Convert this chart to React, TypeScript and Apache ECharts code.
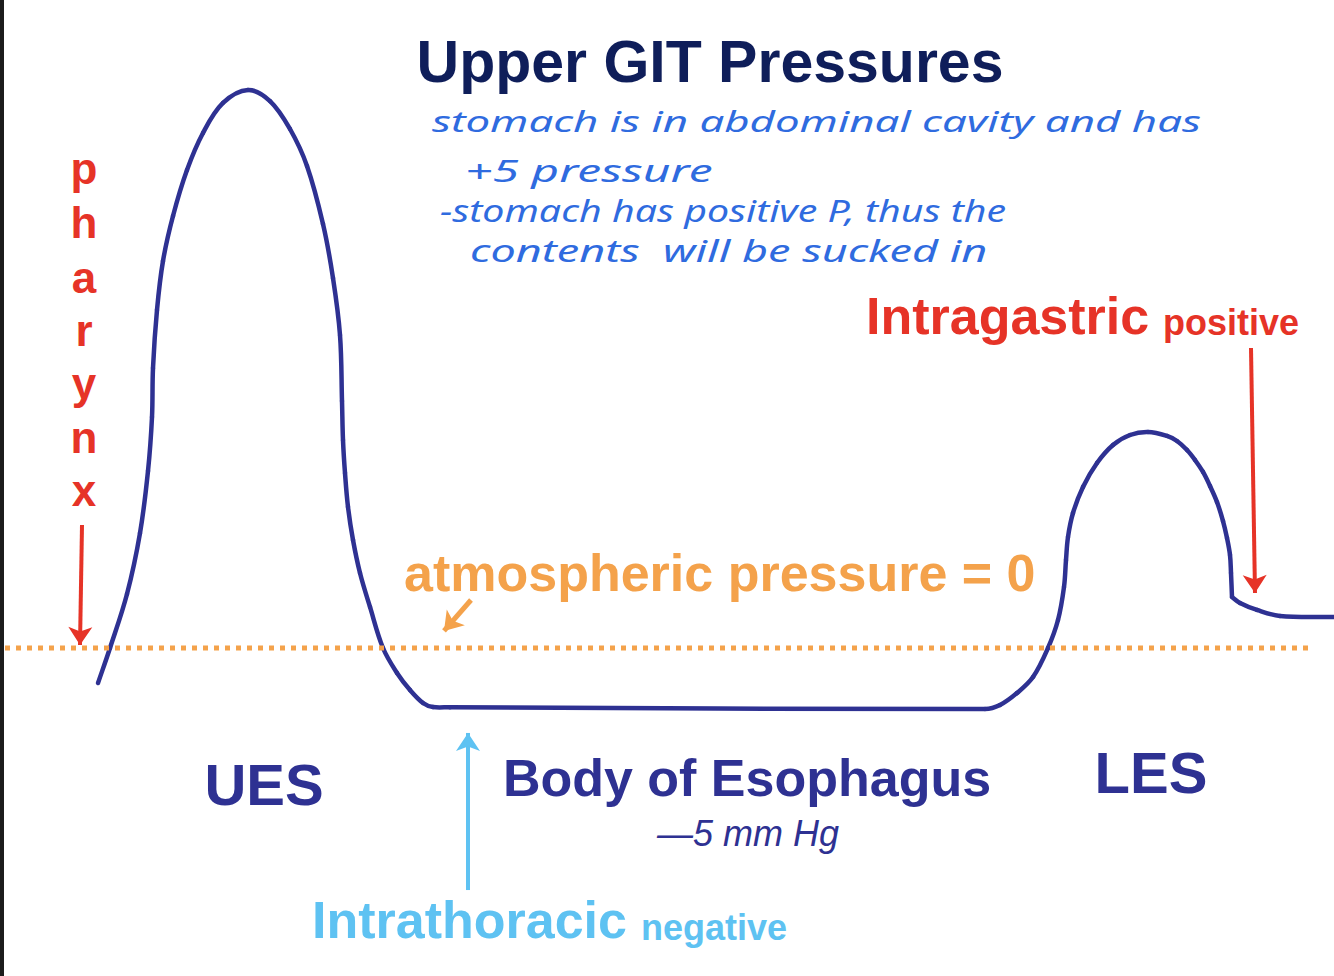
import React, { useEffect, useRef } from "react";
import * as echarts from "echarts";

// Pressure trace: [position along the tract, pressure (mm Hg relative to atmosphere)]
const uesAndBodyAndLes: [number, number][] = [
  [98, -2.92], [110, 0], [127, 4.5], [140, 9.58], [148, 14.75], [152, 19.25],
  [153, 23.33], [157, 28.17], [163, 32.25], [173, 36], [187, 39.83], [203, 42.92],
  [223, 45.42], [248, 46.5], [270, 45.58], [290, 43.25], [307, 40.17], [323, 35.33],
  [333, 30.83], [340, 26.08], [342, 20.58], [343, 17.33], [345, 14.58], [348, 11.75],
  [353, 9], [360, 6.25], [370, 3.42], [383, 0], [397, -2.08], [410, -3.5],
  [423, -4.58], [433, -4.92], [450, -4.93],
  [985, -5.08], [1000, -4.75], [1017, -3.75], [1033, -2.42], [1048, 0], [1058, 2.33],
  [1064, 5.08], [1066, 7.33], [1068, 9.25], [1073, 11.25], [1083, 13.42], [1097, 15.42],
  [1113, 16.92], [1130, 17.75], [1148, 18], [1167, 17.67], [1177, 17.25], [1187, 16.5],
  [1195, 15.67], [1203, 14.67], [1210, 13.5], [1217, 12.17], [1223, 10.58], [1227, 9.17],
  [1230, 7.75], [1231, 6.25], [1232, 4.25],
];
const gastricTail: [number, number][] = [
  [1232, 4.25], [1240, 3.75], [1257, 3.17], [1280, 2.67], [1334, 2.58],
];
const atmosphericLine: [number, number][] = [[5, 0], [1308, 0]];

const titleText = "Upper GIT Pressures";
const noteLines = [
  "stomach is in abdominal cavity and has",
  "+5 pressure",
  "-stomach has positive P, thus the",
  "contents  will be sucked in",
];
const pharynxLetters = ["p", "h", "a", "r", "y", "n", "x"];

const NAVY = "#2e3192";
const RED = "#e63327";
const ORANGE = "#f4a24b";
const LIGHTBLUE = "#5ec2f2";
const INK = "#2f6bdf";
const TITLE = "#0f1e5a";
const SANS = '"Liberation Sans", Arial, sans-serif';

function txt(text: string, x: number, y: number, font: string, fill: string, align = "center", scaleX = 1) {
  return {
    type: "text",
    x,
    y,
    scaleX,
    silent: true,
    z: 10,
    style: {
      text,
      font,
      fill,
      textAlign: align,
      textVerticalAlign: "middle",
      align,
      verticalAlign: "middle",
    },
  };
}

// Smooth curve series: each data item draws the cubic segment to the next point
function curveSeries(points: [number, number][], tension: number) {
  const n = points.length;
  return {
    type: "custom",
    coordinateSystem: "cartesian2d",
    silent: true,
    clip: false,
    data: points,
    renderItem: (params: any, api: any) => {
      const i = params.dataIndex;
      if (i >= n - 1) return null;
      const p0 = api.coord(points[Math.max(i - 1, 0)]);
      const p1 = api.coord(points[i]);
      const p2 = api.coord(points[i + 1]);
      const p3 = api.coord(points[Math.min(i + 2, n - 1)]);
      const dist = (a: number[], b: number[]) => Math.hypot(a[0] - b[0], a[1] - b[1]);
      const d01 = dist(p0, p1);
      const d12 = dist(p1, p2);
      const d23 = dist(p2, p3);
      const r1 = d12 / (d01 + d12 || 1);
      const r2 = d12 / (d12 + d23 || 1);
      const c1 = [p1[0] + (p2[0] - p0[0]) * tension * r1, p1[1] + (p2[1] - p0[1]) * tension * r1];
      const c2 = [p2[0] - (p3[0] - p1[0]) * tension * r2, p2[1] - (p3[1] - p1[1]) * tension * r2];
      const pathData = `M${p1[0]},${p1[1]} C${c1[0]},${c1[1]} ${c2[0]},${c2[1]} ${p2[0]},${p2[1]}`;
      return {
        type: "path",
        shape: { pathData },
        style: { fill: "none", stroke: NAVY, lineWidth: 4.5, lineCap: "round", lineJoin: "round" },
      };
    },
  };
}

export default function App() {
  const ref = useRef<HTMLDivElement>(null);
  useEffect(() => {
    if (!ref.current) return;
    const chart = echarts.init(ref.current, undefined, { renderer: "svg" });

    const noteY = [120, 170, 210, 250];
    const noteX = [432, 465, 440, 470];
    const noteScale = [1.46, 1.6, 1.31, 1.5];
    const pharynxY = [168, 222, 277, 330, 383, 437, 490];

    const graphic: any[] = [
      { type: "rect", shape: { x: 0, y: 0, width: 4, height: 976 }, style: { fill: "#1c1c1c" }, silent: true },
      txt(titleText, 710, 62, `bold 59px ${SANS}`, TITLE),
      ...noteLines.map((l, i) =>
        txt(l, noteX[i], noteY[i], 'italic 30px "Noto Sans", sans-serif', INK, "left", noteScale[i])
      ),
      ...pharynxLetters.map((c, i) => txt(c, 84, pharynxY[i], `bold 44px ${SANS}`, RED)),
      txt("Intragastric", 866, 316, `bold 52px ${SANS}`, RED, "left"),
      txt("positive", 1163, 322, `bold 36px ${SANS}`, RED, "left"),
      txt("atmospheric pressure = 0", 404, 573, `bold 52px ${SANS}`, ORANGE, "left"),
      txt("UES", 264, 784, `bold 58px ${SANS}`, NAVY),
      txt("Body of Esophagus", 747, 778, `bold 52px ${SANS}`, NAVY),
      txt("\u20145 mm Hg", 748, 833, `italic 36px ${SANS}`, NAVY),
      txt("LES", 1151, 772, `bold 58px ${SANS}`, NAVY),
      txt("Intrathoracic", 312, 920, `bold 52px ${SANS}`, LIGHTBLUE, "left"),
      txt("negative", 641, 927, `bold 36px ${SANS}`, LIGHTBLUE, "left"),
    ];

    chart.setOption({
      animation: false,
      backgroundColor: "#ffffff",
      grid: { left: 0, right: 0, top: 48, bottom: 28 },
      xAxis: { type: "value", min: 0, max: 1334, show: false },
      yAxis: { type: "value", min: -25, max: 50, show: false },
      graphic,
      series: [
        {
          type: "line",
          data: atmosphericLine,
          symbol: "none",
          silent: true,
          lineStyle: { color: ORANGE, width: 5, type: [5, 6] },
          markLine: {
            silent: true,
            symbol: ["none", "arrow"],
            symbolSize: 18,
            label: { show: false },
            data: [
              [{ coord: [82, 10.25], lineStyle: { color: RED, width: 4, type: "solid" } }, { coord: [80, 0.25] }],
              [{ coord: [1251, 25], lineStyle: { color: RED, width: 4, type: "solid" } }, { coord: [1255, 4.58] }],
              [{ coord: [468, -20.17], lineStyle: { color: LIGHTBLUE, width: 4, type: "solid" } }, { coord: [468, -7.08] }],
              [{ coord: [471, 4], lineStyle: { color: ORANGE, width: 5, type: "solid" } }, { coord: [444, 1.42] }],
            ],
          },
        },
        curveSeries(uesAndBodyAndLes, 0.36),
        curveSeries(gastricTail, 0.36),
      ],
    });
    return () => chart.dispose();
  }, []);

  return (
    <div
      ref={ref}
      style={{ position: "absolute", left: 0, top: 0, width: 1334, height: 976 }}
    />
  );
}
